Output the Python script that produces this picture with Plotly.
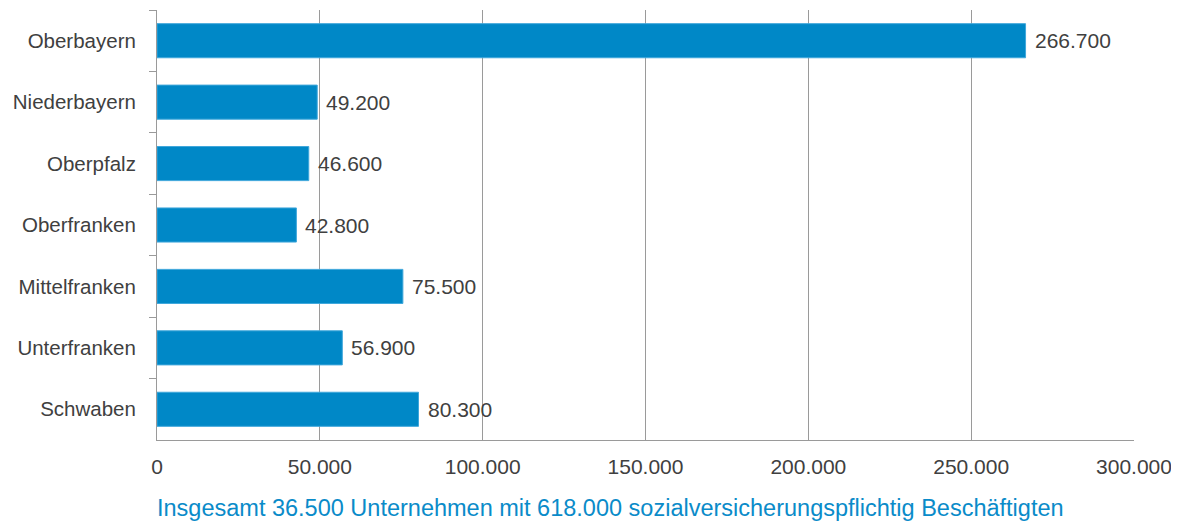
import plotly.graph_objects as go

regions = ["Oberbayern", "Niederbayern", "Oberpfalz", "Oberfranken",
           "Mittelfranken", "Unterfranken", "Schwaben"]
employees = [266700, 49200, 46600, 42800, 75500, 56900, 80300]
x_ticks = [0, 50000, 100000, 150000, 200000, 250000, 300000]
footer = "Insgesamt 36.500 Unternehmen mit 618.000 sozialversicherungspflichtig Beschäftigten"

FONT = "Liberation Sans, Arial, sans-serif"
GREY_TXT = "#404040"
BLUE = "#0088C7"
FS = 21

def de(n):
    return f"{n:,}".replace(",", ".")

fig = go.Figure(go.Bar(
    y=regions, x=employees, orientation="h",
    marker=dict(color=BLUE, line=dict(color="#3FA7DB", width=1)),
    hoverinfo="x+y",
))

annotations = [dict(x=v, y=r, xref="x", yref="y", text=de(v), showarrow=False,
                    xanchor="left", yanchor="middle", xshift=7,
                    font=dict(family=FONT, size=FS, color=GREY_TXT))
               for r, v in zip(regions, employees)]
annotations.append(dict(text=footer, xref="paper", yref="paper",
                        x=-0.002, y=-0.158, xanchor="left", yanchor="middle",
                        showarrow=False,
                        font=dict(family=FONT, size=23.5, color="#0A8BC9")))

fig.update_layout(
    width=1179, height=525,
    margin=dict(l=149, r=53, t=2, b=93, autoexpand=False),
    paper_bgcolor="white", plot_bgcolor="white",
    separators=",.",
    bargap=0.445,
    showlegend=False,
    font=dict(family=FONT, size=FS, color=GREY_TXT),
    xaxis=dict(range=[0, 300000], tickvals=x_ticks, tickformat=",d",
               showgrid=True, gridcolor="#9A9A9A", gridwidth=1,
               showline=True, linecolor="#9A9A9A", linewidth=1,
               zeroline=False, ticks="", ticklabelstandoff=8, automargin=False,
               tickfont=dict(family=FONT, size=FS, color=GREY_TXT)),
    yaxis=dict(autorange="reversed", showline=True, linecolor="#9A9A9A",
               linewidth=1, ticks="outside", tickson="boundaries",
               ticklen=7, tickcolor="#9A9A9A", ticklabelstandoff=16,
               showgrid=False, automargin=False,
               tickfont=dict(family=FONT, size=20.5, color=GREY_TXT)),
    annotations=annotations,
)

fig.write_html("out.html")
